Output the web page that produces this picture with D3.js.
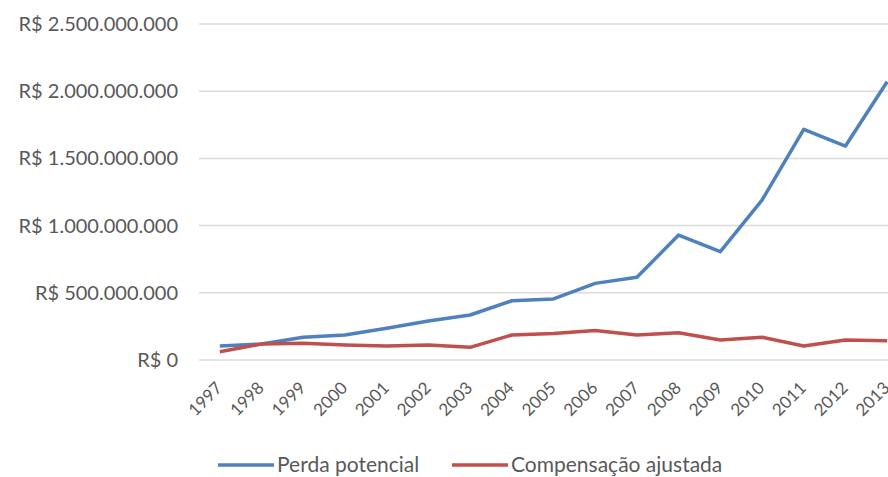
<!DOCTYPE html>
<html>
<head>
<meta charset="utf-8">
<script src="https://d3js.org/d3.v7.min.js"></script>
<style>
  html, body {
    margin: 0;
    padding: 0;
    background: #ffffff;
    overflow: hidden;
  }
  text {
    font-family: Lato, "Open Sans", sans-serif;
    fill: #595959;
  }
</style>
</head>
<body>
<div id="vis"></div>
<script>
// data
var years = ['1997', '1998', '1999', '2000', '2001', '2002', '2003', '2004', '2005',
             '2006', '2007', '2008', '2009', '2010', '2011', '2012', '2013'];
var perdaPotencial = [104e6, 119e6, 169e6, 186e6, 236e6, 290e6, 335e6, 441e6, 454e6,
                      570e6, 615e6, 930e6, 806e6, 1190e6, 1716e6, 1592e6, 2070e6];
var compensacaoAjustada = [62e6, 119e6, 124e6, 112e6, 104e6, 112e6, 94e6, 186e6, 198e6,
                           220e6, 186e6, 203e6, 149e6, 169e6, 104e6, 149e6, 144e6];
var yTicks = [0, 500e6, 1000e6, 1500e6, 2000e6, 2500e6];
var seriesNames = ['Perda potencial', 'Compensação ajustada'];
var seriesColours = ['#4f81bd', '#c0504d'];

var width = 888;
var height = 477;

var svg = d3.select('#vis')
    .append('svg')
    .attr('width', width)
    .attr('height', height);

// the plot area runs past the right edge, as in the cropped original
var x_scale = d3.scalePoint()
    .domain(years)
    .range([199, 908])
    .padding(0.5);

var y_scale = d3.scaleLinear()
    .domain([0, 2500e6])
    .range([360, 24]);

var br = d3.formatLocale({
    decimal: ',',
    thousands: '.',
    grouping: [3],
    currency: ['R$ ', '']
});
var money = br.format('$,.0f');

// grid lines
svg.append('g')
    .selectAll('line')
    .data(yTicks)
    .enter()
    .append('line')
    .attr('x1', 199)
    .attr('x2', width)
    .attr('y1', function(d) { return y_scale(d); })
    .attr('y2', function(d) { return y_scale(d); })
    .attr('stroke', '#dcdcdc')
    .attr('stroke-width', 1.5);

// y axis labels
var y_axis = d3.axisLeft(y_scale)
    .tickValues(yTicks)
    .tickSize(0)
    .tickPadding(0)
    .tickFormat(money);

svg.append('g')
    .attr('class', 'y axis')
    .attr('transform', 'translate(178,0)')
    .call(y_axis)
    .call(function(g) { g.select('.domain').remove(); })
    .selectAll('text')
    .style('font-size', '20px')
    .style('font-family', 'Lato, sans-serif')
    .attr('fill', '#606060');

// x axis labels, rotated
var x_axis = d3.axisBottom(x_scale).tickSize(0);

svg.append('g')
    .attr('class', 'x axis')
    .attr('transform', 'translate(0,360)')
    .call(x_axis)
    .call(function(g) { g.select('.domain').remove(); })
    .selectAll('text')
    .style('font-size', '17px')
    .style('font-family', 'Lato, sans-serif')
    .attr('fill', '#606060')
    .attr('text-anchor', 'end')
    .attr('dy', 0)
    .attr('y', 0)
    .attr('transform', 'translate(3,29) rotate(-45)');

// lines
var line = d3.line()
    .x(function(d, i) { return x_scale(years[i]); })
    .y(function(d) { return y_scale(d); });

[perdaPotencial, compensacaoAjustada].forEach(function(series, i) {
    svg.append('path')
        .datum(series)
        .attr('d', line)
        .attr('fill', 'none')
        .attr('stroke', seriesColours[i])
        .attr('stroke-width', 3.5)
        .attr('stroke-linejoin', 'round');
});

// legend
var legendX = [218, 452];
var legend = svg.append('g')
    .attr('transform', 'translate(0,465)');

seriesNames.forEach(function(name, i) {
    legend.append('line')
        .attr('x1', legendX[i])
        .attr('x2', legendX[i] + 56)
        .attr('y1', 0)
        .attr('y2', 0)
        .attr('stroke', seriesColours[i])
        .attr('stroke-width', 3.5);
    legend.append('text')
        .attr('x', legendX[i] + 59)
        .attr('y', 7)
        .style('font-size', '21px')
        .text(name);
});
</script>
</body>
</html>
